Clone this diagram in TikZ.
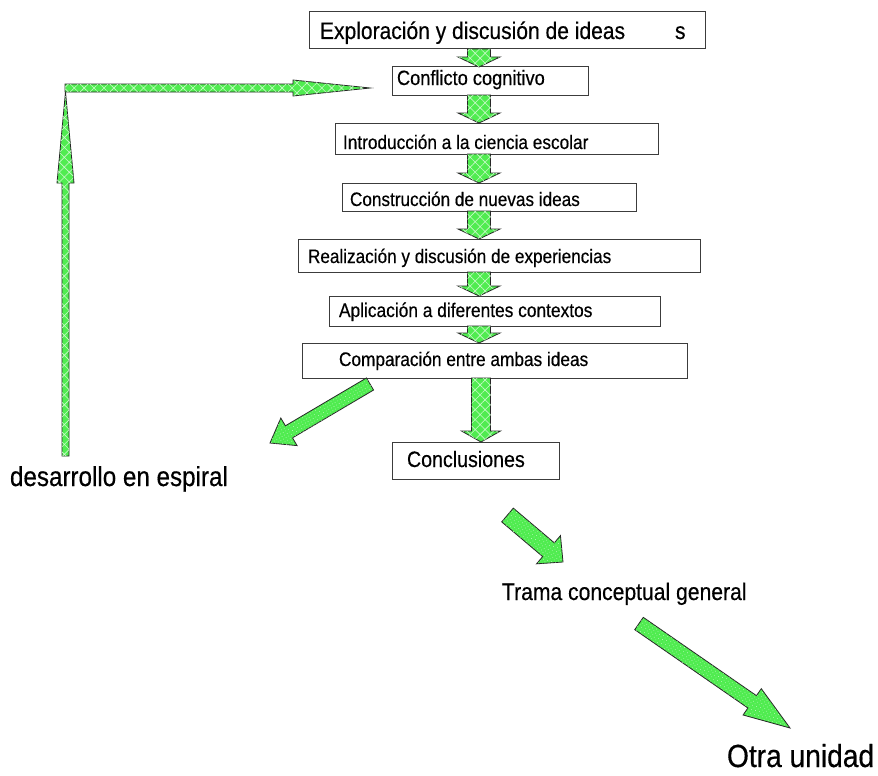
\documentclass[tikz,border=0pt]{standalone}
\usepackage{fontspec}
\newfontfamily\arialn[FakeStretch=0.88,FakeBold=0.4]{Liberation Sans}
\usetikzlibrary{calc,patterns.meta}
\definecolor{agreen}{RGB}{80,236,80}
\definecolor{boxline}{RGB}{60,60,60}
\newcommand\blockarr[6]{%
  \coordinate (tmpC) at ($(#2)!#5!(#1)$);
  \path[#6] ($(#1)!#3!90:(#2)$) -- ($(tmpC)!#3!90:(#2)$) -- ($(tmpC)!#4!90:(#2)$) -- (#2)
    -- ($(tmpC)!#4!-90:(#2)$) -- ($(tmpC)!#3!-90:(#2)$) -- ($(#1)!#3!-90:(#2)$) -- cycle;
}
\newcommand\fs[1]{\fontsize{#1}{#1}\selectfont}
\tikzset{
  box/.style={draw=boxline, line width=1pt, inner sep=0pt, outer sep=0pt, fill=white},
  lbl/.style={anchor=base west, inner sep=0pt, outer sep=0pt, font=\arialn},
  garrow/.style={fill=agreen, draw=black!85, line width=0.8pt,
    postaction={pattern={Hatch[angle=45,distance=7pt,line width=0.6pt]}, pattern color=white!70!agreen}},
  gspeck/.style={fill=agreen, draw=black!85, line width=0.8pt,
    postaction={pattern={Dots[angle=30,distance=3pt,radius=0.45pt]}, pattern color=white!65!agreen}},
}
\begin{document}
\begin{tikzpicture}[x=1pt,y=-1pt]
\useasboundingbox[fill=white] (0,0) rectangle (878,776);

% boxes
\node[box, minimum width=396pt, minimum height=37pt] (b1) at (507,30.5) {};
\node[box, minimum width=196pt, minimum height=28pt] (b2) at (490,81) {};
\node[box, minimum width=323pt, minimum height=31pt] (b3) at (496.5,138.5) {};
\node[box, minimum width=294pt, minimum height=28pt] (b4) at (489,197) {};
\node[box, minimum width=402pt, minimum height=33pt] (b5) at (499,255.5) {};
\node[box, minimum width=331pt, minimum height=30pt] (b6) at (494.5,311) {};
\node[box, minimum width=385pt, minimum height=35pt] (b7) at (494.5,360.5) {};
\node[box, minimum width=167pt, minimum height=37pt] (b8) at (475.5,460.5) {};

% labels
\node[lbl, font=\arialn\fs{23.9}] (t1) at (320,39) {Exploración y discusión de ideas};
\node[lbl, font=\arialn\fs{23.9}] (t1s) at (675,39) {s};
\node[lbl, font=\arialn\fs{20.7}] (t2) at (397,85) {Conflicto cognitivo};
\node[lbl, font=\arialn\fs{19.6}] (t3) at (343,149) {Introducción a la ciencia escolar};
\node[lbl, font=\arialn\fs{19.5}] (t4) at (350,206) {Construcción de nuevas ideas};
\node[lbl, font=\arialn\fs{19.5}] (t5) at (308,263) {Realización y discusión de experiencias};
\node[lbl, font=\arialn\fs{19.7}] (t6) at (339,317) {Aplicación a diferentes contextos};
\node[lbl, font=\arialn\fs{19.6}] (t7) at (339,366) {Comparación entre ambas ideas};
\node[lbl, font=\arialn\fs{22.3}] (t8) at (407,467) {Conclusiones};
\node[lbl, font=\arialn\fs{24}] (t9) at (502,600) {Trama conceptual general};
\node[lbl, font=\arialn\fs{32}] (t10) at (727,767) {Otra unidad};
\node[lbl, font=\arialn\fs{27.5}] (t11) at (10,486) {desarrollo en espiral};

% column arrows
\coordinate (ax) at (479,0);
\coordinate (bx) at (481,0);
\blockarr{b1.south -| ax}{b2.north -| ax}{11.5pt}{21pt}{10pt}{garrow}
\blockarr{b2.south -| ax}{b3.north -| ax}{11.5pt}{21pt}{10pt}{garrow}
\blockarr{b3.south -| ax}{b4.north -| ax}{11.5pt}{21pt}{10pt}{garrow}
\blockarr{b4.south -| ax}{b5.north -| ax}{11.5pt}{21pt}{10pt}{garrow}
\blockarr{b5.south -| ax}{b6.north -| ax}{11.5pt}{21pt}{10pt}{garrow}
\blockarr{b6.south -| ax}{b7.north -| ax}{11.5pt}{21pt}{10pt}{garrow}
\blockarr{b7.south -| bx}{b8.north -| bx}{9.5pt}{19.5pt}{11pt}{garrow}

% diagonal arrows
\coordinate (d1a) at (370,384);
\coordinate (d1b) at (270,443);
\blockarr{d1a}{d1b}{7pt}{16pt}{22pt}{gspeck}
\coordinate (d2a) at (507.5,515);
\coordinate (d2b) at (563,562);
\blockarr{d2a}{d2b}{9pt}{18.5pt}{19pt}{gspeck}
\coordinate (d3a) at (639,623.5);
\coordinate (d3b) at (790,728);
\blockarr{d3a}{d3b}{7.5pt}{16pt}{46pt}{gspeck}

% spiral arrows
\coordinate (s1a) at (65.5,456);
\coordinate (s1b) at (65.5,92);
\blockarr{s1a}{s1b}{3.5pt}{8.5pt}{91pt}{garrow}
\coordinate (s2a) at (65,88);
\coordinate (s2b) at (370,88);
\blockarr{s2a}{s2b}{4pt}{8pt}{77pt}{garrow}
\end{tikzpicture}
\end{document}
